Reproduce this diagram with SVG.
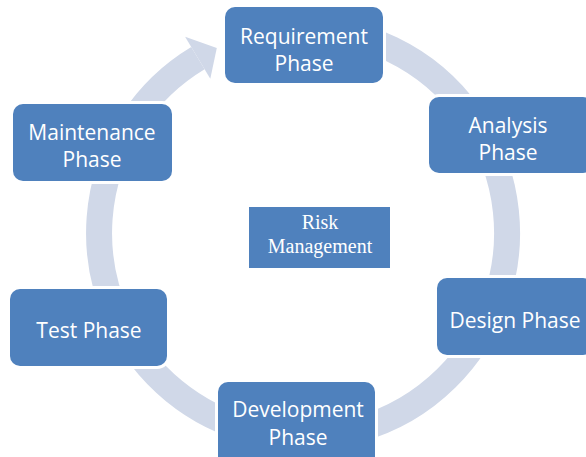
<svg xmlns="http://www.w3.org/2000/svg" width="586" height="457" viewBox="0 0 586 457">
  <style>
    .box { fill: #4F81BD; stroke: #ffffff; stroke-width: 6; paint-order: stroke; }
    .lbl { font-family: "Open Sans", "Liberation Sans", sans-serif; font-size: 21px; fill: #ffffff; text-anchor: middle; }
    .risk { font-family: "Liberation Serif", serif; font-size: 20px; fill: #ffffff; text-anchor: middle; }
    .ring { fill: none; stroke: #D0D8E8; stroke-width: 26; }
  </style>
  <rect width="586" height="457" fill="#ffffff"/>
  <g id="connectors">
    <path class="ring" d="M 303 29 A 204 204 0 1 1 197.9 58.2"/>
    <polygon points="185.1,36.7 216.8,48.1 210.3,78.7" fill="#D0D8E8"/>
  </g>
  <g id="requirement">
    <rect class="box" x="225" y="7" width="158" height="76" rx="10"/>
    <text class="lbl" x="304" y="44">Requirement</text>
    <text class="lbl" x="304" y="71">Phase</text>
  </g>
  <g id="analysis">
    <rect class="box" x="429" y="97" width="164" height="76" rx="10"/>
    <text class="lbl" x="508" y="133">Analysis</text>
    <text class="lbl" x="508" y="160">Phase</text>
  </g>
  <g id="design">
    <rect class="box" x="437" y="278" width="156" height="77" rx="10"/>
    <text class="lbl" x="515" y="328">Design Phase</text>
  </g>
  <g id="development">
    <rect class="box" x="218" y="382" width="157" height="85" rx="10"/>
    <text class="lbl" x="298" y="417">Development</text>
    <text class="lbl" x="298" y="445">Phase</text>
  </g>
  <g id="test">
    <rect class="box" x="10" y="289" width="157" height="77" rx="10"/>
    <text class="lbl" x="89" y="338">Test Phase</text>
  </g>
  <g id="maintenance">
    <rect class="box" x="13" y="104" width="159" height="77" rx="10"/>
    <text class="lbl" x="92" y="140">Maintenance</text>
    <text class="lbl" x="92" y="167">Phase</text>
  </g>
  <g id="risk">
    <rect x="249" y="207" width="141" height="61" fill="#4F81BD"/>
    <text class="risk" x="320" y="229">Risk</text>
    <text class="risk" x="320" y="253">Management</text>
  </g>
</svg>
